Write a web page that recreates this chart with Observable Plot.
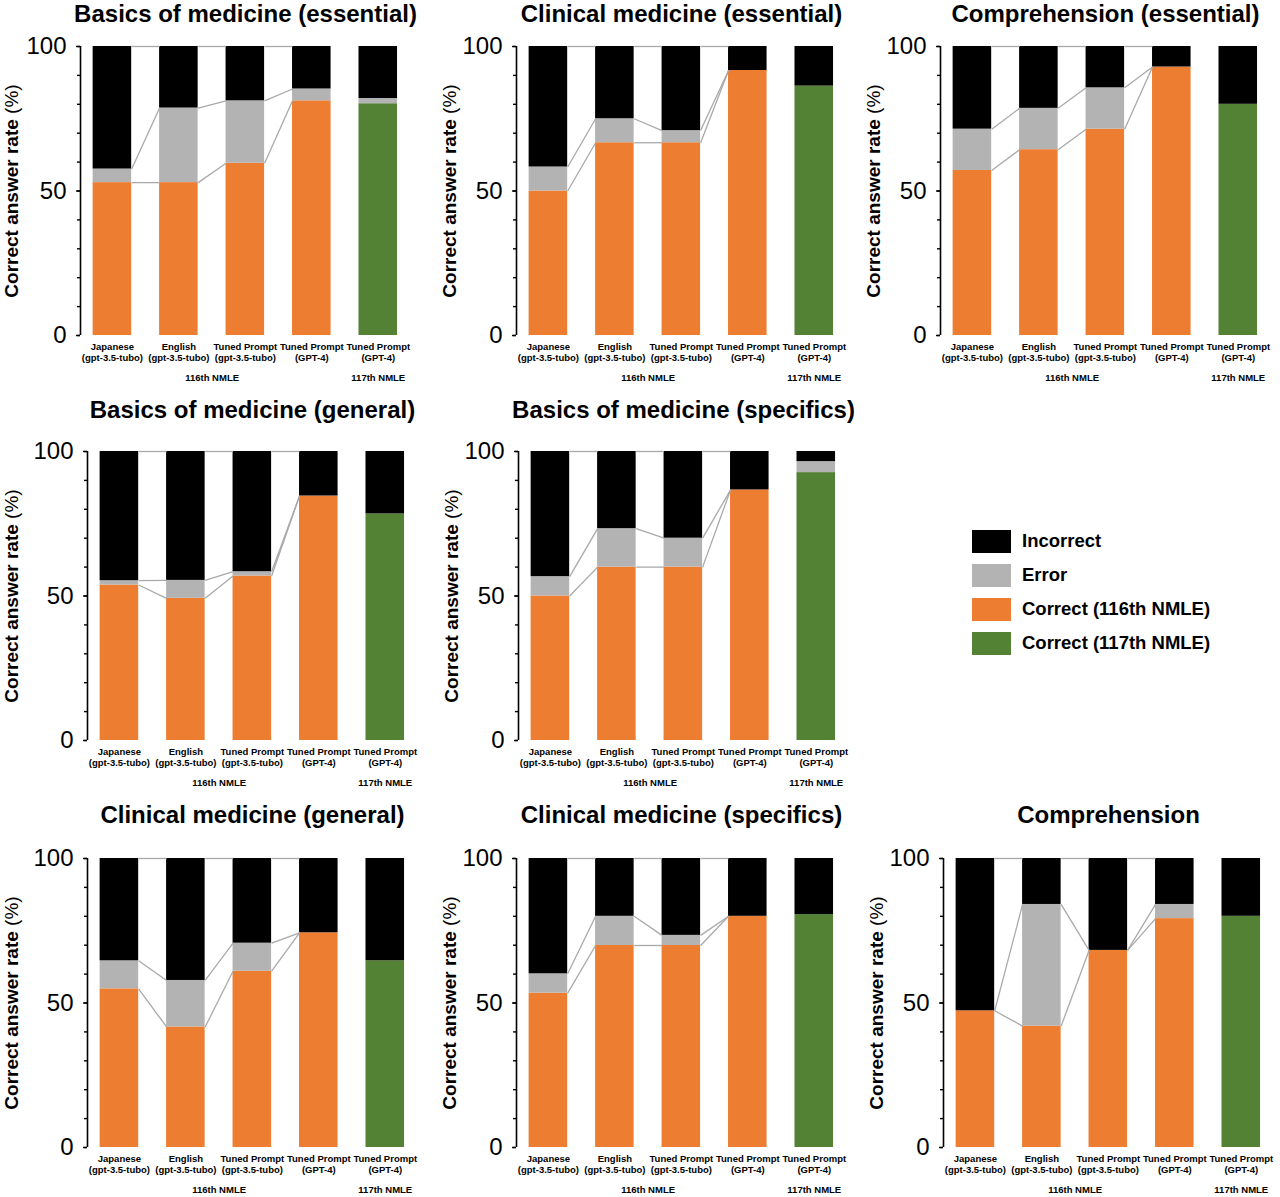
<!DOCTYPE html>
<html>
<head>
<meta charset="utf-8">
<script src="https://cdn.jsdelivr.net/npm/d3@7"></script>
<script src="https://cdn.jsdelivr.net/npm/@observablehq/plot@0.6"></script>
<style>
  html, body { margin: 0; padding: 0; background: #fff; overflow: hidden; }
  #root { position: relative; width: 1280px; height: 1197px; font-family: "Liberation Sans", Arial, Helvetica, sans-serif; color: #000; overflow: hidden; }
  .title { position: absolute; font-size: 24px; font-weight: bold; white-space: nowrap; transform: translate(-50%, -50%); line-height: 1; }
  .panel { position: absolute; width: 430px; }
  .panel svg { max-width: none !important; display: block; }
  .legend { position: absolute; left: 972px; top: 530px; }
  .legend .row { display: flex; align-items: center; height: 22px; margin-bottom: 12px; }
  .legend .sw { width: 39px; height: 23px; margin-right: 11px; }
  .legend .lab { font-size: 18.5px; font-weight: bold; white-space: nowrap; }
</style>
</head>
<body>
<div id="root"></div>
<script>
// ---------- data ----------
const categories = [
  "Japanese\n(gpt-3.5-tubo)",
  "English\n(gpt-3.5-tubo)",
  "Tuned Prompt\n(gpt-3.5-tubo)",
  "Tuned Prompt\n(GPT-4)",
  "Tuned Prompt\n(GPT-4)"
];
const exams = ["116th NMLE", "116th NMLE", "116th NMLE", "116th NMLE", "117th NMLE"];

const titles = [
  "Basics of medicine (essential)",
  "Clinical medicine (essential)",
  "Comprehension (essential)",
  "Basics of medicine (general)",
  "Basics of medicine (specifics)",
  "Clinical medicine (general)",
  "Clinical medicine (specifics)",
  "Comprehension"
];

// correct answer rate (%) per bar, per panel
const correctBasicsEssential   = [52.9, 52.9, 59.6, 81.2, 80.2];
const correctClinicalEssential = [50.0, 66.7, 66.7, 91.7, 86.3];
const correctCompEssential     = [57.1, 64.3, 71.4, 92.9, 80.0];
const correctBasicsGeneral     = [53.8, 49.2, 56.9, 84.6, 78.4];
const correctBasicsSpecifics   = [50.0, 60.0, 60.0, 86.7, 92.7];
const correctClinicalGeneral   = [54.9, 41.7, 61.0, 74.3, 64.6];
const correctClinicalSpecifics = [53.4, 69.9, 69.9, 80.0, 80.6];
const correctComprehension     = [47.3, 42.0, 68.2, 79.2, 80.0];

// error rate (%) per bar, per panel
const errorBasicsEssential   = [4.7, 25.8, 21.6, 4.1, 1.8];
const errorClinicalEssential = [8.3, 8.3, 4.2, 0, 0];
const errorCompEssential     = [14.3, 14.3, 14.3, 0, 0];
const errorBasicsGeneral     = [1.5, 6.2, 1.5, 0, 0];
const errorBasicsSpecifics   = [6.7, 13.3, 10.0, 0, 3.8];
const errorClinicalGeneral   = [9.7, 16.1, 9.7, 0, 0];
const errorClinicalSpecifics = [6.7, 10.1, 3.5, 0, 0];
const errorComprehension     = [0, 42.1, 0, 4.9, 0];

const yTicksMajor = [0, 50, 100];
const yTicksMinor = [0, 10, 20, 30, 40, 50, 60, 70, 80, 90, 100];
const yLabel = "Correct answer rate (%)";

const legendKeys = ["Incorrect", "Error", "Correct (116th NMLE)", "Correct (117th NMLE)"];
const legendColors = ["#000000", "#b3b3b3", "#ed7d31", "#548235"];

const panelData = [
  {title: titles[0], correct: correctBasicsEssential,   error: errorBasicsEssential},
  {title: titles[1], correct: correctClinicalEssential, error: errorClinicalEssential},
  {title: titles[2], correct: correctCompEssential,     error: errorCompEssential},
  {title: titles[3], correct: correctBasicsGeneral,     error: errorBasicsGeneral},
  {title: titles[4], correct: correctBasicsSpecifics,   error: errorBasicsSpecifics},
  {title: titles[5], correct: correctClinicalGeneral,   error: errorClinicalGeneral},
  {title: titles[6], correct: correctClinicalSpecifics, error: errorClinicalSpecifics},
  {title: titles[7], correct: correctComprehension,     error: errorComprehension}
];

// ---------- layout (not data) ----------
const layout = [
  {left: 0,   top: 36,  titleY: 14,  labelDx: -68.5},
  {left: 436, top: 36,  titleY: 14,  labelDx: -67},
  {left: 860, top: 36,  titleY: 14,  labelDx: -67},
  {left: 7,   top: 441, titleY: 410, labelDx: -75.5},
  {left: 438, top: 441, titleY: 410, labelDx: -67},
  {left: 7,   top: 848, titleY: 815, labelDx: -75.5},
  {left: 436, top: 848, titleY: 815, labelDx: -67},
  {left: 863, top: 848, titleY: 815, labelDx: -67}
];

const W = 430, H = 359, ML = 80, MR = 19, MT = 10, MB = 60;
const xDomain = [-0.48, 4.5];
const half = 0.29;
const font = "'Liberation Sans', Arial, Helvetica, sans-serif";

const root = document.getElementById("root");

function makePanel(p, lay) {
  const rows = [];
  const levels = [];
  categories.forEach((c, i) => {
    const corr = p.correct[i], err = p.error[i];
    const key = exams[i] === "117th NMLE" ? "Correct (117th NMLE)" : "Correct (116th NMLE)";
    rows.push({i, y1: 0, y2: corr, key});
    if (err > 0) rows.push({i, y1: corr, y2: corr + err, key: "Error"});
    rows.push({i, y1: corr + err, y2: 100, key: "Incorrect"});
    levels.push([corr, corr + err, 100]);
  });
  const links = [];
  for (let i = 0; i < categories.length - 1; i++) {
    if (exams[i] !== exams[i + 1]) continue;
    for (let k = 0; k < 3; k++) links.push({i, v1: levels[i][k], v2: levels[i + 1][k]});
  }
  const groups = d3.groups(exams.map((e, i) => ({e, i})), d => d.e)
    .map(([name, items]) => ({name, center: d3.mean(items, d => d.i)}));

  const svg = Plot.plot({
    width: W, height: H,
    marginLeft: ML, marginRight: MR, marginTop: MT, marginBottom: MB,
    style: {fontFamily: font, background: "transparent", overflow: "visible", color: "#000", maxWidth: "none"},
    x: {type: "linear", domain: xDomain, axis: null},
    y: {domain: [0, 100], axis: null},
    color: {domain: legendKeys, range: legendColors},
    marks: [
      Plot.rect(rows, {x1: d => d.i - half, x2: d => d.i + half, y1: "y1", y2: "y2", fill: "key"}),
      Plot.link(links, {x1: d => d.i + half, x2: d => d.i + 1 - half, y1: "v1", y2: "v2",
        stroke: "#a9a9a9", strokeWidth: 1.3}),
      Plot.ruleX([xDomain[0]], {stroke: "#000", strokeWidth: 1.6}),
      Plot.axisY({ticks: yTicksMinor, tickSize: 3, tickFormat: () => "", label: null, strokeWidth: 1.4}),
      Plot.axisY({ticks: yTicksMajor, tickSize: 4, tickPadding: 10, fontSize: 24, label: null, strokeWidth: 1.4}),
      Plot.text(categories, {x: (d, i) => i, text: d => d, frameAnchor: "bottom", lineAnchor: "top",
        dy: 6, fontSize: 9.5, fontWeight: "bold", lineHeight: 1.22}),
      Plot.text(groups, {x: "center", text: "name", frameAnchor: "bottom", lineAnchor: "middle",
        dy: 42, fontSize: 9.5, fontWeight: "bold"}),
      Plot.text([yLabel], {text: d => d, frameAnchor: "left", rotate: -90, dx: lay.labelDx,
        textAnchor: "middle", lineAnchor: "middle", fontSize: 19, fontWeight: "bold"})
    ]
  });

  d3.select(svg).selectAll("text").filter(function() { return this.textContent === yLabel; })
    .each(function() {
      const t = d3.select(this);
      t.text(null);
      t.append("tspan").attr("font-weight", "bold").text("Correct answer rate ");
      t.append("tspan").attr("font-weight", "normal").text("(%)");
    });

  const wrap = document.createElement("div");
  wrap.className = "panel";
  wrap.style.left = lay.left + "px";
  wrap.style.top = lay.top + "px";
  wrap.appendChild(svg);
  root.appendChild(wrap);

  const t = document.createElement("div");
  t.className = "title";
  t.textContent = p.title;
  t.style.left = (lay.left + ML + (W - ML - MR) / 2) + "px";
  t.style.top = lay.titleY + "px";
  root.appendChild(t);
}

panelData.forEach((p, k) => makePanel(p, layout[k]));

// legend
const lg = document.createElement("div");
lg.className = "legend";
legendKeys.forEach((k, i) => {
  const row = document.createElement("div");
  row.className = "row";
  const sw = document.createElement("div");
  sw.className = "sw";
  sw.style.background = legendColors[i];
  const lab = document.createElement("div");
  lab.className = "lab";
  lab.textContent = k;
  row.appendChild(sw); row.appendChild(lab);
  lg.appendChild(row);
});
root.appendChild(lg);
</script>
</body>
</html>
